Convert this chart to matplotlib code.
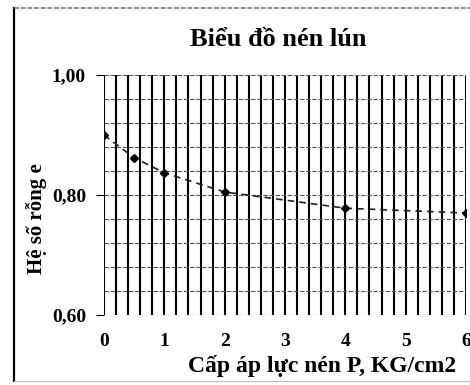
import matplotlib.pyplot as plt
import numpy as np
from matplotlib.lines import Line2D

# consolidation test: void ratio vs pressure step
pressure = [0, 0.5, 1, 2, 4, 6]
void_ratio = [0.900, 0.862, 0.837, 0.805, 0.778, 0.770]

x_ticks = [0, 1, 2, 3, 4, 5, 6]
y_ticks = [0.60, 0.80, 1.00]
y_labels = ['0,60', '0,80', '1,00']

plt.rcParams['font.family'] = ['Liberation Serif', 'DejaVu Serif']
plt.rcParams['font.weight'] = 'bold'

fig = plt.figure(figsize=(4.7, 3.85), dpi=100)
ax = fig.add_axes([104 / 470, 1 - 315 / 385, 362 / 470, 240 / 385])

# dense grid: heavy verticals every 0.2, thin horizontals every 0.04
for xv in np.arange(0, 6.01, 0.2):
    ax.axvline(xv, color='black', lw=1.5, zorder=1)
for yv in np.arange(0.60, 1.001, 0.04):
    ax.axhline(yv, color='#555555', lw=0.8, ls=(0, (4, 1.5)), zorder=1)

ax.plot(pressure, void_ratio, color='#222222', lw=1.2, ls=(0, (4, 3)),
        marker='D', ms=4, mfc='black', mec='black', zorder=3)

ax.set_xlim(0, 6)
ax.set_ylim(0.60, 1.00)
ax.set_xticks(x_ticks)
ax.set_yticks(y_ticks)
ax.set_yticklabels(y_labels)
ax.tick_params(axis='y', length=6, width=0.8, pad=7, labelsize=14)
ax.tick_params(axis='x', length=0, pad=13, labelsize=14)
for s in ax.spines.values():
    s.set_visible(False)

fig.text(278 / 470, 1 - 40 / 385, 'Biểu đồ nén lún', ha='center', va='center',
         fontsize=19, fontweight='bold')
fig.text(322 / 470, 1 - 366 / 385, 'Cấp áp lực nén P, KG/cm2', ha='center',
         va='center', fontsize=17, fontweight='bold')
fig.text(37 / 470, 1 - 219 / 385, 'Hệ số rỗng e', ha='center', va='center',
         rotation=90, fontsize=15, fontweight='bold')

# outer chart frame
fig.add_artist(Line2D([14 / 470, 14 / 470], [1 - 381 / 385, 1 - 8 / 385],
                      transform=fig.transFigure, color='black', lw=1.6))
fig.add_artist(Line2D([14 / 470, 1], [1 - 8 / 385, 1 - 8 / 385],
                      transform=fig.transFigure, color='#777777', lw=1.2, ls=(0, (3, 1))))
fig.add_artist(Line2D([14 / 470, 1], [1 - 381 / 385, 1 - 381 / 385],
                      transform=fig.transFigure, color='#bbbbbb', lw=0.8))

fig.savefig('out.png', dpi=100)
